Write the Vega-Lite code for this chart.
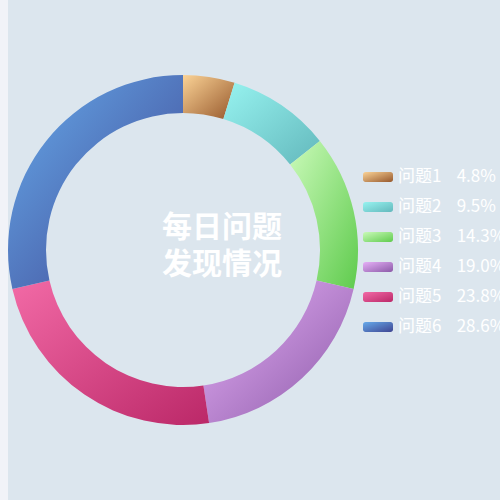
{
  "$schema": "https://vega.github.io/schema/vega-lite/v6.json",
  "width": 492,
  "height": 500,
  "autosize": {"type": "none"},
  "padding": {"left": 8, "top": 0, "right": 0, "bottom": 0},
  "background": "#f1f3f8",
  "data": {
    "values": [
      {"name": "问题1", "value": 1},
      {"name": "问题2", "value": 2},
      {"name": "问题3", "value": 3},
      {"name": "问题4", "value": 4},
      {"name": "问题5", "value": 5},
      {"name": "问题6", "value": 6}
    ]
  },
  "transform": [
    {"joinaggregate": [{"op": "sum", "field": "value", "as": "total"}]},
    {"calculate": "datum.name + '\u00a0\u00a0\u00a0\u00a0' + format(datum.value / datum.total, '.1%')", "as": "label"}
  ],
  "layer": [
    {
      "mark": {"type": "arc", "radius": 175, "radius2": 137, "xOffset": -71},
      "encoding": {
        "theta": {"field": "value", "type": "quantitative", "stack": true},
        "order": {"field": "value", "type": "quantitative"},
        "color": {
          "field": "label",
          "type": "nominal",
          "scale": {
            "range": [
              {"expr": "{gradient: 'linear', x1: 0, y1: 0, x2: 1, y2: 1, stops: [{offset: 0, color: '#fbd396'}, {offset: 1, color: '#96582c'}]}"},
              {"expr": "{gradient: 'linear', x1: 0, y1: 0, x2: 1, y2: 1, stops: [{offset: 0, color: '#97f3f0'}, {offset: 1, color: '#63b8bc'}]}"},
              {"expr": "{gradient: 'linear', x1: 0, y1: 0, x2: 1, y2: 1, stops: [{offset: 0, color: '#cafab9'}, {offset: 1, color: '#5fcb4d'}]}"},
              {"expr": "{gradient: 'linear', x1: 0, y1: 0, x2: 1, y2: 1, stops: [{offset: 0, color: '#e6b0f7'}, {offset: 1, color: '#8c5aa8'}]}"},
              {"expr": "{gradient: 'linear', x1: 0, y1: 0, x2: 1, y2: 1, stops: [{offset: 0, color: '#f26aa6'}, {offset: 1, color: '#bb2868'}]}"},
              {"expr": "{gradient: 'linear', x1: 0, y1: 0, x2: 1, y2: 1, stops: [{offset: 0, color: '#66aaea'}, {offset: 1, color: '#3f4592'}]}"}
            ]
          },
          "legend": {
            "orient": "none",
            "legendX": 355,
            "legendY": 162,
            "title": null,
            "symbolType": "M-0.833,-0.333H0.833A0.167,0.167 0 0 1 1,-0.167V0.167A0.167,0.167 0 0 1 0.833,0.333H-0.833A0.167,0.167 0 0 1 -1,0.167V-0.167A0.167,0.167 0 0 1 -0.833,-0.333Z",
            "symbolSize": 900,
            "symbolStrokeWidth": 0,
            "symbolOpacity": 1,
            "labelColor": "#ffffff",
            "labelFont": "Noto Sans CJK SC",
            "labelFontSize": 17,
            "labelOffset": 5,
            "labelLimit": 300,
            "rowPadding": 7
          }
        }
      }
    },
    {
      "data": {"values": [{"t": "每日问题\n发现情况"}]},
      "mark": {
        "type": "text",
        "lineBreak": "\n",
        "lineHeight": 37,
        "dx": -32,
        "dy": -22.5,
        "align": "center",
        "baseline": "middle",
        "font": "Noto Sans CJK SC",
        "fontSize": 30,
        "fontWeight": "bold",
        "color": "#ffffff"
      },
      "encoding": {
        "text": {"field": "t", "type": "nominal"}
      }
    }
  ],
  "config": {
    "view": {"stroke": null},
    "style": {"view": {"fill": "#dce6ee", "stroke": null}}
  }
}
